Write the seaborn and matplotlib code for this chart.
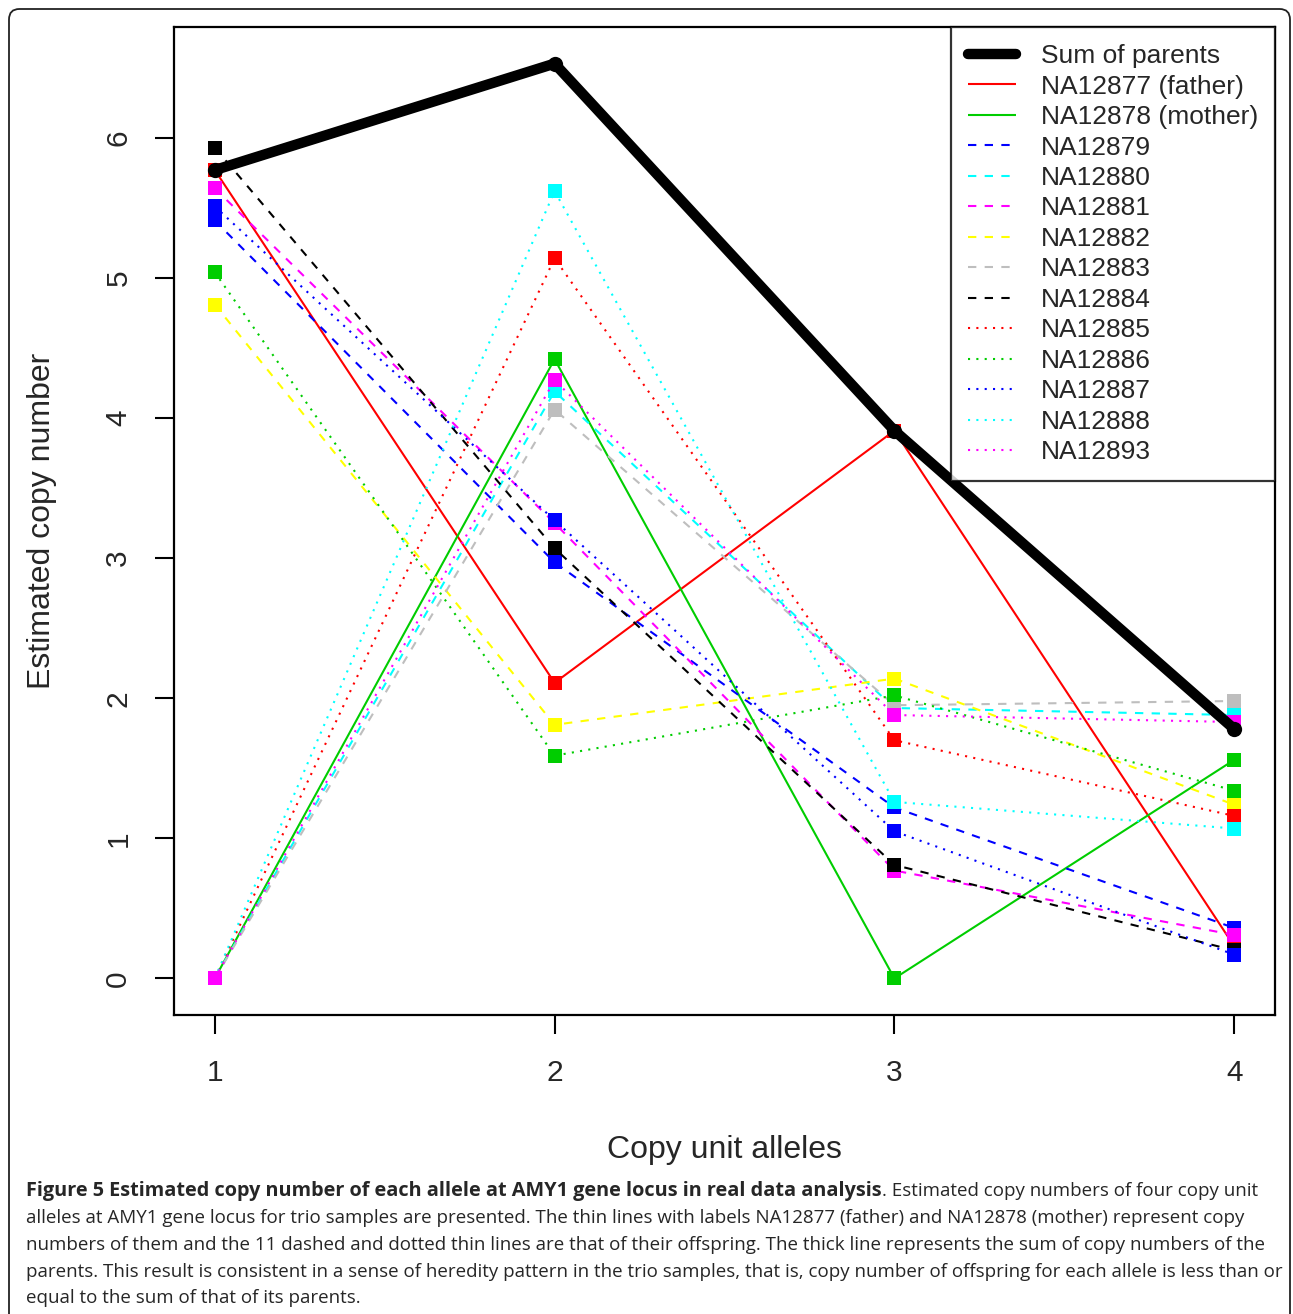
import matplotlib
matplotlib.use("Agg")
import matplotlib.pyplot as plt
from matplotlib.lines import Line2D
from matplotlib.patches import FancyBboxPatch
import seaborn as sns
import pandas as pd

# ---------------- data ----------------
alleles = [1, 2, 3, 4]
sum_parents = [5.77, 6.53, 3.91, 1.78]
na12877_father = [5.77, 2.11, 3.91, 0.23]
na12878_mother = [0.00, 4.42, 0.00, 1.56]
na12879 = [5.41, 2.97, 1.22, 0.36]
na12880 = [0.00, 4.19, 1.93, 1.88]
na12881 = [5.64, 3.25, 0.77, 0.31]
na12882 = [4.81, 1.81, 2.14, 1.24]
na12883 = [0.00, 4.06, 1.95, 1.98]
na12884 = [5.93, 3.07, 0.81, 0.20]
na12885 = [0.00, 5.14, 1.70, 1.16]
na12886 = [5.04, 1.59, 2.02, 1.34]
na12887 = [5.51, 3.27, 1.05, 0.17]
na12888 = [0.00, 5.62, 1.26, 1.07]
na12893 = [0.00, 4.27, 1.88, 1.83]

labels = ["Sum of parents", "NA12877 (father)", "NA12878 (mother)",
          "NA12879", "NA12880", "NA12881", "NA12882", "NA12883", "NA12884",
          "NA12885", "NA12886", "NA12887", "NA12888", "NA12893"]
series = [sum_parents, na12877_father, na12878_mother,
          na12879, na12880, na12881, na12882, na12883, na12884,
          na12885, na12886, na12887, na12888, na12893]
colors = ["#000000", "#FF0000", "#00CD00",
          "#0000FF", "#00FFFF", "#FF00FF", "#FFFF00", "#BEBEBE", "#000000",
          "#FF0000", "#00CD00", "#0000FF", "#00FFFF", "#FF00FF"]
DASH = (0, (4, 4))
DOT = (0, (1, 3))
styles = ["-", "-", "-"] + [DASH] * 6 + [DOT] * 5

# ---------------- figure ----------------
sns.set_style("white")
plt.rcParams["font.family"] = ["Liberation Sans", "DejaVu Sans"]

W, H = 1293, 1314
fig = plt.figure(figsize=(W / 100, H / 100), dpi=100)
L, R, T, B = 174, 1275, 27, 1015
ax = fig.add_axes([L / W, 1 - B / H, (R - L) / W, (B - T) / H])

# offspring and parents first, sum last (on top)
order = list(range(1, len(series))) + [0]
for i in order:
    df = pd.DataFrame({"allele": alleles, "cn": series[i]})
    if i == 0:
        sns.lineplot(data=df, x="allele", y="cn", ax=ax, color=colors[i],
                     linewidth=7.5, marker="o", markersize=11,
                     markeredgewidth=0, errorbar=None, sort=False,
                     solid_capstyle="round", zorder=10)
    else:
        sns.lineplot(data=df, x="allele", y="cn", ax=ax, color=colors[i],
                     linewidth=1.5, linestyle=styles[i], marker="s",
                     markersize=10, markeredgewidth=0, errorbar=None,
                     sort=False, zorder=2 + i * 0.1)

ax.set_xlim(1 - 0.12, 4 + 0.12)
ax.set_ylim(-0.2612, 6.7912)
ax.set_xticks(alleles)
ax.set_yticks([0, 1, 2, 3, 4, 5, 6])
ax.set_xticklabels(["1", "2", "3", "4"])
ax.set_yticklabels(["0", "1", "2", "3", "4", "5", "6"])
for s in ax.spines.values():
    s.set_visible(True)
    s.set_color("black")
    s.set_linewidth(1.6)
ax.tick_params(axis="both", which="major", direction="out", length=14,
               width=1.5, color="black", labelsize=21.5, bottom=True, left=True)
ax.tick_params(axis="x", pad=18)
ax.tick_params(axis="y", pad=16)
for lab in ax.get_yticklabels():
    lab.set_rotation(90)
    lab.set_va("center")
    lab.set_ha("right")

ax.set_xlabel("Copy unit alleles", fontsize=23)
ax.set_ylabel("Estimated copy number", fontsize=23)
ax.xaxis.set_label_coords(0.5, (B - 1150) / (B - T))
ax.xaxis.label.set_va("center")
ax.yaxis.set_label_coords((42 - L) / (R - L), 0.5)
ax.yaxis.label.set_va("center")

# legend
handles = []
for i in range(len(series)):
    lw = 7.5 if i == 0 else 1.5
    handles.append(Line2D([0], [0], color=colors[i], linewidth=lw,
                          linestyle=styles[i],
                          solid_capstyle="round" if i == 0 else "butt"))
leg = ax.legend(handles, labels, loc="upper right", bbox_to_anchor=(1, 1),
                borderaxespad=0, frameon=True, fancybox=False,
                fontsize=19, handlelength=1.8, handletextpad=0.95,
                labelspacing=0.245, borderpad=0.65)
leg.get_frame().set_edgecolor("black")
leg.get_frame().set_linewidth(1.6)
leg.set_zorder(20)

# caption
cap_font = ["Open Sans", "DejaVu Sans"]
cap_size = 13.5
bold_size = 14.35
x0 = 26 / W
line_y = [1191, 1218, 1245, 1272, 1298]
bold = "Figure 5 Estimated copy number of each allele at AMY1 gene locus in real data analysis"
t = fig.text(x0, 1 - line_y[0] / H, bold, fontsize=bold_size,
             fontweight="bold", family=cap_font, va="center", ha="left")
fig.canvas.draw()
bb = t.get_window_extent(renderer=fig.canvas.get_renderer())
fig.text(bb.x1 / W, 1 - line_y[0] / H,
         ". Estimated copy numbers of four copy unit",
         fontsize=cap_size, family=cap_font, va="center", ha="left")
rest = [
    "alleles at AMY1 gene locus for trio samples are presented. The thin lines with labels NA12877 (father) and NA12878 (mother) represent copy",
    "numbers of them and the 11 dashed and dotted thin lines are that of their offspring. The thick line represents the sum of copy numbers of the",
    "parents. This result is consistent in a sense of heredity pattern in the trio samples, that is, copy number of offspring for each allele is less than or",
    "equal to the sum of that of its parents.",
]
for k, line in enumerate(rest):
    fig.text(x0, 1 - line_y[k + 1] / H, line, fontsize=cap_size,
             family=cap_font, va="center", ha="left")

# outer rounded frame
frame = FancyBboxPatch((9 / W, -0.02), (1290 - 9) / W, (1 - 9 / H) + 0.02,
                       boxstyle="round,pad=0,rounding_size=0.008",
                       transform=fig.transFigure, fill=False,
                       edgecolor="#222222", linewidth=1.3)
fig.add_artist(frame)

fig.savefig("out.png", dpi=100)
